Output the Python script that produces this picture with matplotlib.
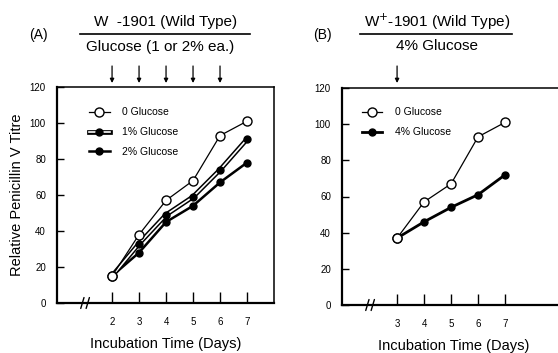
import matplotlib
matplotlib.use("Agg")
import matplotlib.pyplot as plt
import matplotlib.patheffects as pe
from matplotlib.lines import Line2D

plt.rcParams['font.family'] = ['Liberation Sans', 'DejaVu Sans']

# panel A data
days_a = [2, 3, 4, 5, 6, 7]
glc0_a = [15, 38, 57, 68, 93, 101]
glc1_a = [15, 33, 49, 59, 74, 91]
glc2_a = [15, 28, 45, 54, 67, 78]
arrow_days_a = [2, 3, 4, 5, 6]

# panel B data
days_b = [3, 4, 5, 6, 7]
glc0_b = [37, 57, 67, 93, 101]
glc4_b = [37, 46, 54, 61, 72]
arrow_days_b = [3]

yticks = [0, 20, 40, 60, 80, 100, 120]

W, H = 558, 353
fig = plt.figure(figsize=(W / 100, H / 100), dpi=100)


def fx(px):
    return px / W


def fy(py):
    return 1 - py / H


ax1 = fig.add_axes([fx(57), fy(303), fx(274 - 57), (303 - 87) / H])
ax2 = fig.add_axes([fx(342), fy(305), fx(565 - 342), (305 - 88) / H])

for ax in (ax1, ax2):
    ax.set_ylim(0, 120)
    ax.set_yticks(yticks)
    ax.tick_params(axis='both', direction='in', labelsize=7, width=1.0)
    ax.tick_params(axis='y', length=5, pad=8)
    ax.tick_params(axis='x', length=8, pad=10)
    for s in ['left', 'bottom']:
        ax.spines[s].set_linewidth(1.6)
    for s in ['top', 'right']:
        ax.spines[s].set_linewidth(1.1)
    ax.set_xlabel("Incubation Time (Days)", fontsize=10.5, labelpad=7)

ax1.set_xlim(-0.04, 8.0)
ax1.set_xticks(days_a)
ax2.set_xlim(0.96, 9.22)
ax2.set_xticks(days_b)

ax1.set_ylabel("Relative Penicillin V Titre", fontsize=10.5, labelpad=4)

double = [pe.Stroke(linewidth=3.4, foreground='black'), pe.Normal()]

# panel A lines
h0, = ax1.plot(days_a, glc0_a, color='black', lw=0.9, marker='o', ms=6.5,
               mfc='white', mec='black', mew=1.0, zorder=5)
h1l, = ax1.plot(days_a, glc1_a, color='white', lw=1.2, path_effects=double, zorder=4)
h1m, = ax1.plot(days_a, glc1_a, ls='none', marker='o', ms=5,
                mfc='black', mec='black', zorder=4.5)
h2, = ax1.plot(days_a, glc2_a, color='black', lw=1.8, marker='o', ms=5,
               mfc='black', mec='black', zorder=3)
ax1.plot(days_a[:1], glc0_a[:1], color='black', marker='o', ms=6.5,
         mfc='white', mec='black', mew=1.0, zorder=6)
ax1.legend([h0, (h1l, h1m), h2], ["0 Glucose", "1% Glucose", "2% Glucose"],
           loc='upper left', bbox_to_anchor=(0.118, 0.935), frameon=False,
           fontsize=7.5, handlelength=2.0, handletextpad=1.2,
           labelspacing=0.95, borderaxespad=0.2)

# panel B lines
g0, = ax2.plot(days_b, glc0_b, color='black', lw=0.9, marker='o', ms=6.5,
               mfc='white', mec='black', mew=1.0, zorder=5)
g4, = ax2.plot(days_b, glc4_b, color='black', lw=2.0, marker='o', ms=5,
               mfc='black', mec='black', zorder=4)
ax2.plot(days_b[:1], glc0_b[:1], color='black', marker='o', ms=6.5,
         mfc='white', mec='black', mew=1.0, zorder=6)
ax2.legend([g0, g4], ["0 Glucose", "4% Glucose"],
           loc='upper left', bbox_to_anchor=(0.06, 0.94), frameon=False,
           fontsize=7.5, handlelength=2.0, handletextpad=1.2,
           labelspacing=0.95, borderaxespad=0.2)

# axis breaks
for ax, xb in ((ax1, 1.0), (ax2, 2.0)):
    for dx in (-0.1, 0.1):
        ax.annotate("", xy=(xb + dx + 0.09, 4.5), xytext=(xb + dx - 0.09, -4.5),
                    xycoords='data', annotation_clip=False,
                    arrowprops=dict(arrowstyle='-', lw=1.0, color='black'))

# headers
fig.text(fx(38), fy(35), "(A)", fontsize=10, ha='center', va='center')
fig.text(fx(166), fy(22), "W  -1901 (Wild Type)", fontsize=11, ha='center', va='center')
fig.add_artist(Line2D([fx(80), fx(250)], [fy(33.5), fy(33.5)], color='black', lw=1.2))
fig.text(fx(160), fy(47), "Glucose (1 or 2% ea.)", fontsize=11, ha='center', va='center')

fig.text(fx(322), fy(35), "(B)", fontsize=10, ha='center', va='center')
fig.text(fx(437), fy(22), "W$^{+}$-1901 (Wild Type)", fontsize=11, ha='center', va='center')
fig.add_artist(Line2D([fx(360), fx(512)], [fy(33.5), fy(33.5)], color='black', lw=1.2))
fig.text(fx(437), fy(46), "4% Glucose", fontsize=11, ha='center', va='center')

# glucose addition arrows
for ax, ds in ((ax1, arrow_days_a), (ax2, arrow_days_b)):
    for d in ds:
        ax.annotate("", xy=(d, fy(83)), xytext=(d, fy(66)),
                    xycoords=('data', 'figure fraction'),
                    textcoords=('data', 'figure fraction'),
                    annotation_clip=False,
                    arrowprops=dict(arrowstyle='-|>', lw=0.9, color='black',
                                    mutation_scale=6, shrinkA=0, shrinkB=0))

fig.savefig("out.png", dpi=100)
